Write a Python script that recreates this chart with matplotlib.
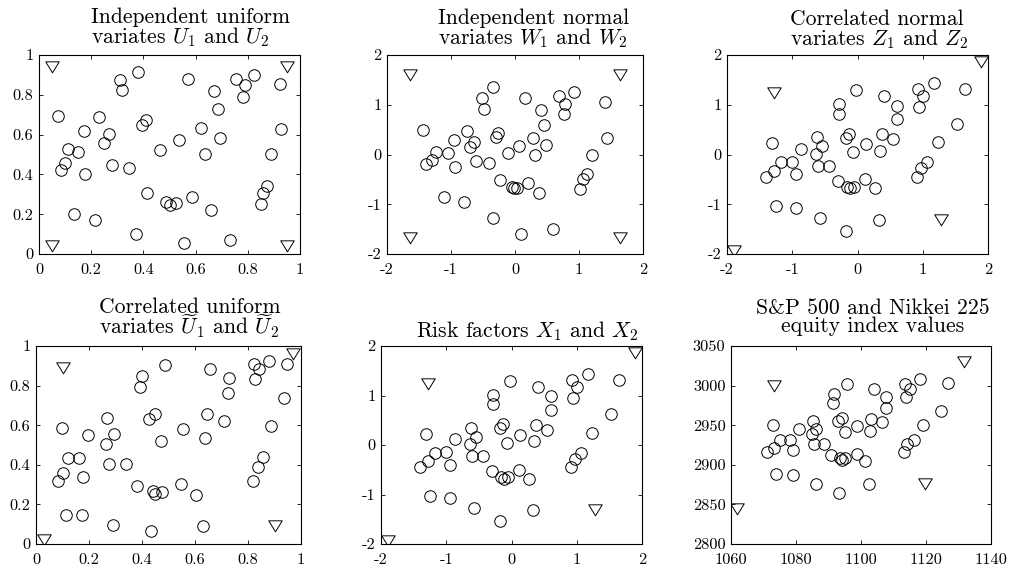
import matplotlib
matplotlib.use('Agg')
import matplotlib.pyplot as plt
from matplotlib.path import Path

plt.rcParams['font.family'] = 'cmr10'
plt.rcParams['mathtext.fontset'] = 'cm'
plt.rcParams['axes.unicode_minus'] = False
plt.rcParams['axes.formatter.use_mathtext'] = True

# ---------------- data ----------------
# Independent uniform variates
U1 = [0.072, 0.083, 0.100, 0.110, 0.149, 0.174, 0.178, 0.133, 0.215, 0.231, 0.248, 0.267,
      0.278, 0.311, 0.318, 0.380, 0.346, 0.394, 0.409, 0.415, 0.370, 0.463, 0.485, 0.501,
      0.523, 0.536, 0.555, 0.571, 0.588, 0.619, 0.637, 0.658, 0.670, 0.686, 0.692, 0.731,
      0.756, 0.790, 0.781, 0.825, 0.850, 0.858, 0.874, 0.889, 0.924, 0.926]
U2 = [0.692, 0.422, 0.458, 0.528, 0.513, 0.620, 0.403, 0.200, 0.172, 0.688, 0.558, 0.605,
      0.448, 0.872, 0.822, 0.913, 0.433, 0.647, 0.672, 0.305, 0.102, 0.522, 0.260, 0.247,
      0.255, 0.572, 0.055, 0.877, 0.285, 0.632, 0.502, 0.220, 0.817, 0.730, 0.583, 0.072,
      0.880, 0.847, 0.788, 0.897, 0.250, 0.305, 0.343, 0.502, 0.855, 0.630]
U_tri1 = [0.05, 0.95, 0.05, 0.95]
U_tri2 = [0.95, 0.95, 0.05, 0.05]

# Independent normal variates
W1 = [-1.44, -1.39, -1.30, -1.23, -1.11, -1.05, -0.96, -0.93, -0.80, -0.75, -0.70, -0.64,
      -0.61, -0.52, -0.49, -0.41, -0.34, -0.35, -0.30, -0.26, -0.23, -0.11, -0.05, -0.01,
      0.03, 0.07, 0.10, 0.15, 0.20, 0.28, 0.31, 0.38, 0.41, 0.45, 0.48, 0.59, 0.68, 0.76,
      0.78, 0.92, 1.02, 1.06, 1.13, 1.20, 1.41, 1.43]
W2 = [0.50, -0.20, -0.12, 0.05, -0.85, 0.03, 0.30, -0.25, -0.95, 0.48, 0.15, 0.26,
      -0.14, 1.13, 0.92, -0.18, 1.35, -1.28, 0.36, 0.44, -0.52, 0.04, -0.65, -0.68,
      -0.67, 0.18, -1.60, 1.14, -0.57, 0.34, 0.00, -0.78, 0.90, 0.60, 0.20, -1.49, 1.17, 0.82,
      1.02, 1.26, -0.70, -0.50, -0.40, 0.00, 1.05, 0.33]
W_tri1 = [-1.645, 1.645, -1.645, 1.645]
W_tri2 = [1.645, 1.645, -1.645, -1.645]

# Correlated normal variates
Z1 = [-1.40, -1.28, -1.31, -1.17, -1.25, -1.00, -0.95, -0.86, -0.95, -0.64, -0.62, -0.55,
      -0.60, -0.43, -0.57, -0.28, -0.29, -0.18, -0.13, -0.07, -0.03, -0.30, -0.16, -0.12,
      -0.06, -0.17, 0.13, 0.12, 0.27, 0.33, 0.35, 0.38, 0.41, 0.55, 0.61, 0.61, 0.93, 0.94,
      1.01, 1.18, 0.91, 0.98, 1.07, 1.23, 1.53, 1.65]
Z2 = [-0.45, -0.33, 0.23, -0.16, -1.03, -0.15, -0.40, 0.12, -1.07, 0.02, 0.35, 0.17,
      -0.23, -0.23, -1.28, 1.02, 0.82, 0.34, 0.42, 0.05, 1.30, -0.53, -0.65, -0.68,
      -0.65, -1.53, 0.21, -0.50, -0.68, -1.31, 0.08, 0.41, 1.17, 0.31, 0.98, 0.71, 1.32, 0.95,
      1.17, 1.43, -0.45, -0.28, -0.16, 0.25, 0.62, 1.32]
Z_tri1 = [-1.90, -1.28, 1.28, 1.90]
Z_tri2 = [-1.90, 1.28, -1.28, 1.90]

# Correlated uniform variates
V1 = [0.084, 0.103, 0.098, 0.122, 0.161, 0.112, 0.174, 0.177, 0.197, 0.269, 0.265, 0.294,
      0.274, 0.339, 0.290, 0.399, 0.393, 0.383, 0.427, 0.448, 0.473, 0.442, 0.450, 0.476,
      0.433, 0.487, 0.548, 0.555, 0.602, 0.630, 0.639, 0.645, 0.657, 0.710, 0.726, 0.730,
      0.821, 0.826, 0.842, 0.881, 0.818, 0.836, 0.858, 0.888, 0.934, 0.949]
V2 = [0.319, 0.361, 0.585, 0.435, 0.435, 0.148, 0.148, 0.338, 0.550, 0.634, 0.506, 0.558,
      0.405, 0.405, 0.097, 0.850, 0.795, 0.294, 0.629, 0.657, 0.518, 0.266, 0.252, 0.261,
      0.064, 0.904, 0.304, 0.580, 0.250, 0.092, 0.534, 0.655, 0.884, 0.620, 0.761, 0.837,
      0.909, 0.832, 0.884, 0.924, 0.319, 0.388, 0.439, 0.598, 0.736, 0.909]
V_tri1 = [0.029, 0.100, 0.900, 0.971]
V_tri2 = [0.029, 0.900, 0.100, 0.971]

# Risk factors (same points as the correlated normals in the picture)
X1 = list(Z1)
X2 = list(Z2)
X_tri1 = [-1.90, -1.28, 1.28, 1.90]
X_tri2 = [-1.90, 1.28, -1.28, 1.90]

# Equity index values
SP = [1071.0, 1073.2, 1072.9, 1075.1, 1073.9, 1078.3, 1079.2, 1080.9, 1079.2, 1084.8, 1085.1, 1086.3,
      1085.4, 1088.6, 1086.0, 1091.6, 1091.3, 1093.0, 1094.1, 1095.0, 1095.8, 1090.8, 1093.5, 1094.1,
      1095.2, 1093.1, 1098.9, 1098.8, 1101.2, 1102.5, 1102.8, 1103.2, 1103.9, 1106.4, 1107.6, 1107.6,
      1113.5, 1113.8, 1115.0, 1118.3, 1113.2, 1114.3, 1116.2, 1119.0, 1124.6, 1126.9]
NK = [2916.2, 2921.7, 2949.7, 2930.9, 2888.2, 2931.7, 2919.1, 2944.6, 2887.0, 2939.2, 2955.9, 2945.5,
      2926.7, 2926.3, 2875.7, 2989.0, 2978.1, 2954.7, 2958.9, 2941.3, 3001.5, 2912.9, 2908.7, 2906.6,
      2908.3, 2864.0, 2948.4, 2914.1, 2905.4, 2875.3, 2942.1, 2958.0, 2995.7, 2953.8, 2986.0, 2972.2,
      3002.3, 2985.2, 2996.1, 3008.2, 2916.2, 2925.8, 2931.3, 2950.5, 2968.5, 3003.6]
EQ_tri1 = [1061.9, 1073.2, 1119.8, 1131.7]
EQ_tri2 = [2847.0, 3001.5, 2878.0, 3032.0]

# ticks
unif_ticks = [0, 0.2, 0.4, 0.6, 0.8, 1]
unif_labels = ['0', '0.2', '0.4', '0.6', '0.8', '1']
norm_ticks = [-2, -1, 0, 1, 2]
norm_labels = ['-2', '-1', '0', '1', '2']
sp_ticks = [1060, 1080, 1100, 1120, 1140]
sp_labels = ['1060', '1080', '1100', '1120', '1140']
nk_ticks = [2800, 2850, 2900, 2950, 3000, 3050]
nk_labels = ['2800', '2850', '2900', '2950', '3000', '3050']

# titles
title_texts = [
    "Independent uniform\nvariates $U_1$ and $U_2$",
    "Independent normal\nvariates $W_1$ and $W_2$",
    "Correlated normal\nvariates $Z_1$ and $Z_2$",
    "Correlated uniform\nvariates $\\widetilde{U}_1$ and $\\widetilde{U}_2$",
    "Risk factors $X_1$ and $X_2$",
    "S&P 500 and Nikkei 225\nequity index values",
]

# ---------------- figure ----------------
W, H = 1009, 569
fig = plt.figure(figsize=(W / 100, H / 100), dpi=100)


def pos(x0, x1, y0, y1):
    return [x0 / W, 1 - y1 / H, (x1 - x0) / W, (y1 - y0) / H]


tri = Path([(-6.75, 3.67), (6.75, 3.67), (0, -7.33), (-6.75, 3.67)],
           [Path.MOVETO, Path.LINETO, Path.LINETO, Path.CLOSEPOLY])

panels = [
    (pos(39, 300, 55, 254), U1, U2, U_tri1, U_tri2, unif_ticks, unif_labels, unif_ticks, unif_labels),
    (pos(387, 643, 55, 254), W1, W2, W_tri1, W_tri2, norm_ticks, norm_labels, norm_ticks, norm_labels),
    (pos(727, 988, 55, 254), Z1, Z2, Z_tri1, Z_tri2, norm_ticks, norm_labels, norm_ticks, norm_labels),
    (pos(36, 301, 346, 544), V1, V2, V_tri1, V_tri2, unif_ticks, unif_labels, unif_ticks, unif_labels),
    (pos(381, 642, 346, 544), X1, X2, X_tri1, X_tri2, norm_ticks, norm_labels, norm_ticks, norm_labels),
    (pos(731, 991, 346, 544), SP, NK, EQ_tri1, EQ_tri2, sp_ticks, sp_labels, nk_ticks, nk_labels),
]

for rect, xs, ys, tx, ty, xt, xl, yt, yl in panels:
    ax = fig.add_axes(rect)
    ax.plot(xs, ys, linestyle='none', marker='o', ms=8.3, mfc='none', mec='black', mew=0.7)
    ax.plot(tx, ty, linestyle='none', marker=tri, ms=10.56, mfc='none', mec='black', mew=0.7)
    ax.set_xlim(xt[0], xt[-1])
    ax.set_ylim(yt[0], yt[-1])
    ax.set_xticks(xt, xl)
    ax.set_yticks(yt, yl)
    ax.tick_params(direction='in', top=True, right=True, length=3, width=0.6, labelsize=11.8)
    ax.tick_params(axis='x', pad=6.5)
    ax.tick_params(axis='y', pad=4)
    for sp in ax.spines.values():
        sp.set_linewidth(0.8)

# (x in px, last-line baseline in px, horizontal anchor, line alignment, line spacing)
title_layout = [
    (91, 43, 'left', 'left', 0.9),
    (438, 44, 'left', 'left', 0.9),
    (790, 45, 'left', 'left', 0.9),
    (99, 334, 'left', 'left', 0.78),
    (527.5, 337, 'center', 'center', 1.0),
    (873, 332, 'center', 'center', 0.92),
]
for txt, (x, by, ha, ma, ls) in zip(title_texts, title_layout):
    fig.text(x / W, 1 - by / H, txt, ha=ha, va='baseline', ma=ma,
             linespacing=ls, fontsize=15.6)

fig.savefig('out.png', dpi=100)
